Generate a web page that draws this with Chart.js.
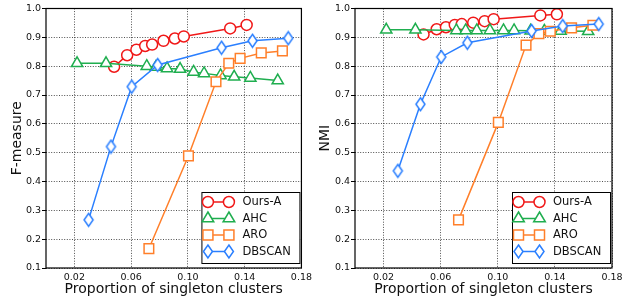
<!DOCTYPE html>
<html>
<head>
<meta charset="utf-8">
<script src="https://cdn.jsdelivr.net/npm/chart.js@4/dist/chart.umd.min.js"></script>
<style>
body { margin: 0; background: #fff; }
#wrap { position: relative; width: 632px; height: 301px; }
.box { position: absolute; top: 0; width: 316px; height: 301px; }
</style>
</head>
<body>
<div id="wrap">
  <div class="box" style="left:0"><canvas id="fChart"></canvas></div>
  <div class="box" style="left:316px"><canvas id="nmiChart"></canvas></div>
</div>
<script>
// proportion of singleton clusters for each method
let oursX   = [0.048, 0.0572, 0.0637, 0.0699, 0.0748, 0.0828, 0.0908, 0.0971, 0.1298, 0.1414];
let ahcX    = [0.0219, 0.0423, 0.0710, 0.0775, 0.0853, 0.0945, 0.104, 0.1114, 0.123, 0.1326, 0.144, 0.1633];
let aroX    = [0.0725, 0.1004, 0.1198, 0.1288, 0.1368, 0.1517, 0.1666];
let dbscanX = [0.030, 0.0458, 0.0604, 0.0787, 0.1237, 0.1455, 0.1707];

// F-measure
let oursF   = [0.798, 0.838, 0.857, 0.870, 0.875, 0.888, 0.896, 0.903, 0.931, 0.943];
let ahcF    = [0.81, 0.81, 0.80, 0.797, 0.792, 0.79, 0.78, 0.775, 0.768, 0.763, 0.759, 0.75];
let aroF    = [0.167, 0.489, 0.746, 0.81, 0.827, 0.846, 0.853];
let dbscanF = [0.267, 0.521, 0.729, 0.804, 0.864, 0.888, 0.897];

// NMI
let oursN   = [0.910, 0.928, 0.935, 0.943, 0.946, 0.951, 0.956, 0.963, 0.976, 0.980];
let ahcN    = [0.926, 0.926, 0.924, 0.924, 0.924, 0.924, 0.924, 0.924, 0.923, 0.922, 0.922, 0.921];
let aroN    = [0.267, 0.605, 0.873, 0.913, 0.921, 0.933, 0.942];
let dbscanN = [0.437, 0.668, 0.832, 0.881, 0.922, 0.939, 0.946];

let methods = ['Ours-A', 'AHC', 'ARO', 'DBSCAN'];
let xTicks = [0.02, 0.06, 0.10, 0.14, 0.18];

const RED = '#f01818', GREEN = '#1fae4f', ORANGE = '#ff7f2a', BLUE = '#2a7fff';
const FONT = '"DejaVu Sans", sans-serif';

// thin diamond marker like matplotlib 'd'
function diamondImage() {
    let c = document.createElement('canvas');
    c.width = 13; c.height = 16;
    let g = c.getContext('2d');
    g.beginPath();
    g.moveTo(6.5, 1.5); g.lineTo(11, 8); g.lineTo(6.5, 14.5); g.lineTo(2, 8); g.closePath();
    g.fillStyle = '#fff'; g.fill();
    g.lineWidth = 1.5; g.strokeStyle = BLUE; g.stroke();
    return c;
}
const DIAMOND = diamondImage();

function pts(xs, ys) {
    return xs.map((x, i) => ({ x: x, y: ys[i] }));
}

function series(label, xs, ys, color, style, radius, order) {
    return {
        label: label,
        data: pts(xs, ys),
        borderColor: color,
        backgroundColor: color,
        borderWidth: 1.5,
        pointStyle: style,
        pointRadius: radius,
        pointBorderWidth: 1.5,
        pointBorderColor: color,
        pointBackgroundColor: '#fff',
        order: order
    };
}

// legend marker drawn by hand (matplotlib style: marker - line - marker)
function legendMarker(ctx, kind, x, y, color) {
    ctx.save();
    ctx.lineWidth = 1.5;
    ctx.strokeStyle = color;
    ctx.fillStyle = '#fff';
    ctx.beginPath();
    if (kind === 0) {
        ctx.arc(x, y, 5.5, 0, Math.PI * 2);
    } else if (kind === 1) {
        ctx.moveTo(x, y - 6.5); ctx.lineTo(x + 5.8, y + 3.3); ctx.lineTo(x - 5.8, y + 3.3); ctx.closePath();
    } else if (kind === 2) {
        ctx.rect(x - 5, y - 5, 10, 10);
    } else {
        ctx.moveTo(x, y - 6.5); ctx.lineTo(x + 4.5, y); ctx.lineTo(x, y + 6.5); ctx.lineTo(x - 4.5, y); ctx.closePath();
    }
    ctx.fill();
    ctx.stroke();
    ctx.restore();
}

const frameAndLegend = {
    id: 'frameAndLegend',
    afterDraw(chart) {
        const ctx = chart.ctx;
        const a = chart.chartArea;
        ctx.save();
        ctx.strokeStyle = '#000';
        ctx.lineWidth = 1.2;
        ctx.strokeRect(a.left, a.top, a.right - a.left, a.bottom - a.top);

        // legend box
        const w = 98, h = 71;
        const bx = a.right - 2 - w, by = a.bottom - 5 - h;
        ctx.fillStyle = '#fff';
        ctx.fillRect(bx, by, w, h);
        ctx.lineWidth = 1;
        ctx.strokeRect(bx + 0.5, by + 0.5, w, h);
        const colors = [RED, GREEN, ORANGE, BLUE];
        ctx.font = '11.5px ' + FONT;
        ctx.textBaseline = 'middle';
        ctx.textAlign = 'left';
        methods.forEach((m, i) => {
            const y = by + 10 + i * 16.5;
            const x1 = bx + 6.5, x2 = bx + 27.5;
            ctx.strokeStyle = colors[i];
            ctx.lineWidth = 1.5;
            ctx.beginPath(); ctx.moveTo(x1, y); ctx.lineTo(x2, y); ctx.stroke();
            legendMarker(ctx, i, x1, y, colors[i]);
            legendMarker(ctx, i, x2, y, colors[i]);
            ctx.fillStyle = '#111';
            ctx.fillText(m, bx + 41, y + 0.5);
        });
        ctx.restore();
    }
};

function makeChart(id, yTitle, ys, yWidth, rightPad, titlePad) {
    new Chart(document.getElementById(id), {
        type: 'line',
        data: {
            datasets: [
                series('Ours-A', oursX, ys[0], RED, 'circle', 5.5, 3),
                series('AHC', ahcX, ys[1], GREEN, 'triangle', 6.5, 2),
                series('ARO', aroX, ys[2], ORANGE, 'rect', 6.8, 1),
                series('DBSCAN', dbscanX, ys[3], BLUE, DIAMOND, 7, 0)
            ]
        },
        options: {
            responsive: true,
            maintainAspectRatio: false,
            animation: false,
            events: [],
            layout: { padding: { left: 0, right: rightPad, top: 8, bottom: 0 } },
            plugins: { legend: { display: false }, tooltip: { enabled: false } },
            scales: {
                x: {
                    type: 'linear',
                    min: 0, max: 0.18,
                    afterBuildTicks: s => { s.ticks = xTicks.map(v => ({ value: v })); },
                    afterFit: s => { s.height = 33; },
                    ticks: {
                        padding: 4,
                        color: '#111',
                        font: { family: FONT, size: 9.5 },
                        callback: v => v.toFixed(2)
                    },
                    grid: { color: '#222', lineWidth: 0.8, drawTicks: false },
                    border: { display: false, dash: [1, 1.6] },
                    title: {
                        display: true,
                        text: 'Proportion of singleton clusters',
                        color: '#111',
                        font: { family: FONT, size: 14 },
                        padding: { top: 0, bottom: 3 }
                    }
                },
                y: {
                    min: 0.1, max: 1.0,
                    afterFit: s => { s.width = yWidth; },
                    ticks: {
                        stepSize: 0.1,
                        padding: 1,
                        color: '#111',
                        font: { family: FONT, size: 9.5 },
                        callback: v => v.toFixed(1)
                    },
                    grid: {
                        color: '#222', lineWidth: 0.8,
                        drawTicks: true, tickLength: 4,
                        tickColor: '#000', tickWidth: 1, tickBorderDash: []
                    },
                    border: { display: false, dash: [1, 1.6] },
                    title: {
                        display: true,
                        text: yTitle,
                        color: '#111',
                        font: { family: FONT, size: 14 },
                        padding: { top: titlePad, bottom: 0 }
                    }
                }
            }
        },
        plugins: [frameAndLegend]
    });
}

makeChart('fChart', 'F-measure', [oursF, ahcF, aroF, dbscanF], 46, 12, 9);
makeChart('nmiChart', 'NMI', [oursN, ahcN, aroN, dbscanN], 39, 20, 1);
</script>
</body>
</html>
